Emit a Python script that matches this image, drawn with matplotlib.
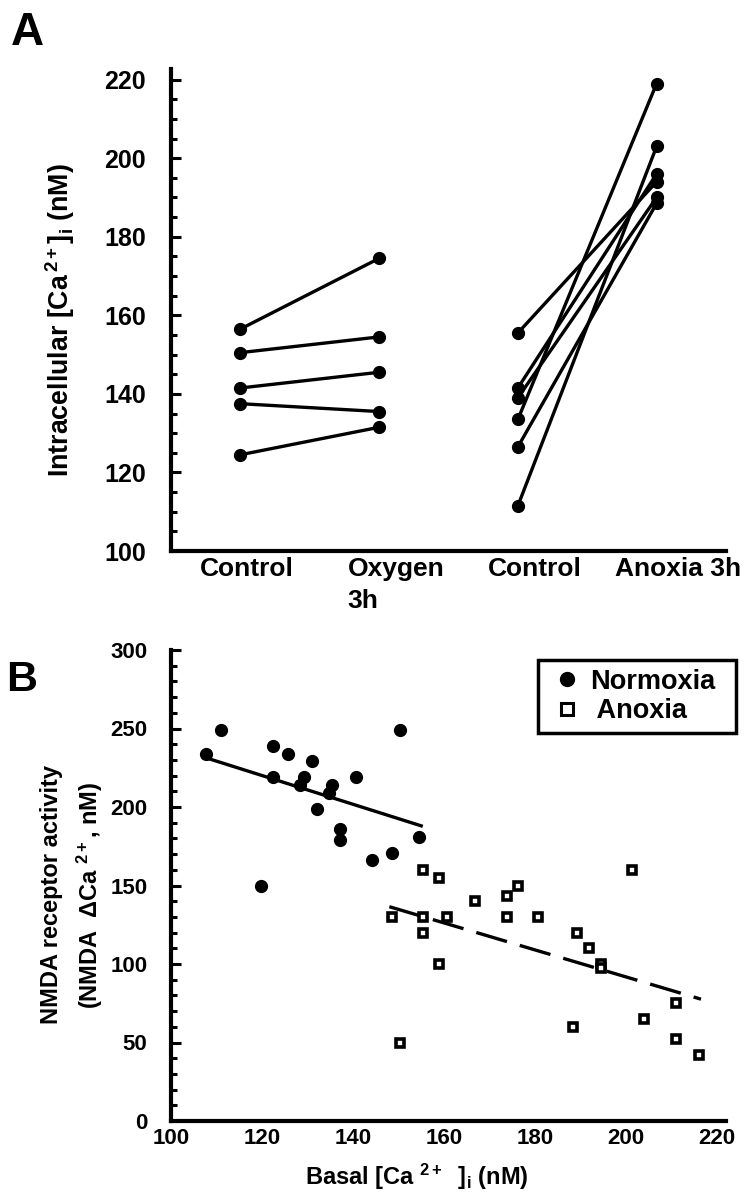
import matplotlib as mpl
mpl.use('Agg')
import matplotlib.pyplot as plt
from matplotlib.ticker import MultipleLocator
from matplotlib.transforms import ScaledTranslation

plt.rcParams['font.family'] = ['Liberation Sans', 'DejaVu Sans']
plt.rcParams['font.weight'] = 'bold'
plt.rcParams['mathtext.fontset'] = 'custom'
plt.rcParams['mathtext.rm'] = 'Liberation Sans:bold'
plt.rcParams['mathtext.bf'] = 'Liberation Sans:bold'
plt.rcParams['mathtext.it'] = 'Liberation Sans:bold'
plt.rcParams['mathtext.default'] = 'bf'

# ---- panel A: paired measurements ----
categories = ['Control', 'Oxygen\n3h', 'Control', 'Anoxia 3h']
oxy_control = [156.5, 150.5, 141.5, 137.5, 124.5]
oxy_3h = [174.5, 154.5, 145.5, 135.5, 131.5]
anox_control = [155.5, 141.5, 139.0, 133.5, 126.5, 111.5]
anox_3h = [194.0, 196.0, 190.0, 219.0, 188.5, 203.0]

# ---- panel B: NMDA activity vs basal Ca ----
norm_basal = [107.6, 111.0, 122.4, 122.4, 125.8, 131.0, 129.3, 128.4, 135.5,
              134.7, 132.0, 140.7, 137.1, 137.1, 119.8, 144.1, 148.5, 150.3, 154.5]
norm_nmda = [234, 249, 239, 219, 234, 229, 219, 214, 214,
             209, 199, 219, 186, 179, 150, 166, 171, 249, 181]
anox_basal = [148.6, 150.4, 155.5, 155.5, 155.5, 159.0, 159.0, 160.7, 166.8,
              173.8, 173.8, 176.3, 180.6, 188.4, 189.3, 191.9, 194.5, 194.5,
              201.4, 204.0, 210.9, 210.9, 216.1]
anox_nmda = [130, 50, 160, 130, 120, 155, 100, 130, 140,
             143, 130, 150, 130, 60, 120, 110, 100, 97.5,
             160, 65, 75, 52, 42]
norm_fit_x = [107.5, 155.0]
norm_fit_y = [231.5, 188.0]
anox_fit_x = [148.0, 216.5]
anox_fit_y = [136.5, 77.6]

W, H = 744, 1200
fig = plt.figure(figsize=(W / 100, H / 100), dpi=100)


def px_axes(l, t, r, b):
    return fig.add_axes([l / W, 1 - b / H, (r - l) / W, (b - t) / H])


def style_axes(ax):
    for s in ['top', 'right']:
        ax.spines[s].set_visible(False)
    for s in ['left', 'bottom']:
        ax.spines[s].set_linewidth(3)
    ax.tick_params(axis='y', which='major', direction='in', length=7, width=2.2)
    ax.tick_params(axis='y', which='minor', direction='in', length=4, width=2.2)
    ax.tick_params(axis='x', length=0)


# panel A
axA = px_axes(171, 69, 726, 551)
style_axes(axA)
for c, o in zip(oxy_control, oxy_3h):
    axA.plot([1, 2], [c, o], color='black', lw=2.4, marker='o', ms=8.5)
for c, o in zip(anox_control, anox_3h):
    axA.plot([3, 4], [c, o], color='black', lw=2.4, marker='o', ms=8.5)
axA.set_xlim(0.5, 4.5)
axA.set_ylim(100, 222.7)
axA.set_yticks(range(100, 221, 20))
axA.yaxis.set_minor_locator(MultipleLocator(5))
axA.tick_params(axis='y', labelsize=18, pad=18)
axA.set_xticks([1, 2, 3, 4])
axA.set_xticklabels(categories, fontsize=19, linespacing=1.45,
                    multialignment='left')
axA.tick_params(axis='x', pad=4)
for lab, dx in zip(axA.get_xticklabels(), [6, 17, 17, 21]):
    lab.set_transform(lab.get_transform() + ScaledTranslation(dx / 100, 0, fig.dpi_scale_trans))
axA.text(-0.2, 0.479, r'Intracellular [Ca$^{\,2+}$]$_{\rm i}$ (nM)', transform=axA.transAxes,
         rotation=90, ha='center', va='center', fontsize=19.3)
fig.text(27 / W, 1 - 45 / H, 'A', fontsize=33, fontweight='bold', ha='center', va='baseline')

# panel B
axB = px_axes(171, 650, 726, 1121)
style_axes(axB)
axB.plot(norm_basal, norm_nmda, linestyle='none', marker='o', ms=8.5,
         color='black', label='Normoxia')
axB.plot(anox_basal, anox_nmda, linestyle='none', marker='s', ms=5.5, mew=2.6,
         mfc='white', mec='black', label=' Anoxia')
axB.plot(norm_fit_x, norm_fit_y, color='black', lw=2.4)
axB.plot(anox_fit_x, anox_fit_y, color='black', lw=2.4, linestyle=(0, (9.6, 4.0)))
axB.set_xlim(100, 222)
axB.set_ylim(0, 300)
axB.set_xticks(range(100, 221, 20))
axB.set_yticks(range(0, 301, 50))
axB.yaxis.set_minor_locator(MultipleLocator(10))
axB.tick_params(axis='y', labelsize=16, pad=17)
axB.tick_params(axis='x', labelsize=16, pad=5)
axB.text(0.443, -0.119, r'Basal [Ca $^{2+}$  ]$_{\rm i}$ (nM)', transform=axB.transAxes,
         ha='center', va='center', fontsize=17)
axB.text(-0.178, 0.48, 'NMDA receptor activity\n(NMDA  \u0394Ca $^{2+}$, nM)',
         transform=axB.transAxes, rotation=90, ha='center', va='center',
         fontsize=17, linespacing=1.5)
leg = axB.legend(loc='upper left', bbox_to_anchor=(538 / W, 1 - 736 / H, 198 / W, 76 / H),
                 bbox_transform=fig.transFigure, mode='expand', borderaxespad=0,
                 fancybox=False, edgecolor='black', fontsize=19.5, handlelength=1.5,
                 handletextpad=0.1, labelspacing=0.12, borderpad=0.33, framealpha=1)
leg.get_frame().set_linewidth(2.5)
leg.legend_handles[0].set_markersize(10)
leg.legend_handles[1].set_markersize(8)
leg.legend_handles[1].set_markeredgewidth(2.2)
fig.text(22 / W, 1 - 691 / H, 'B', fontsize=31, fontweight='bold', ha='center', va='baseline')

fig.savefig('out.png', dpi=100)
